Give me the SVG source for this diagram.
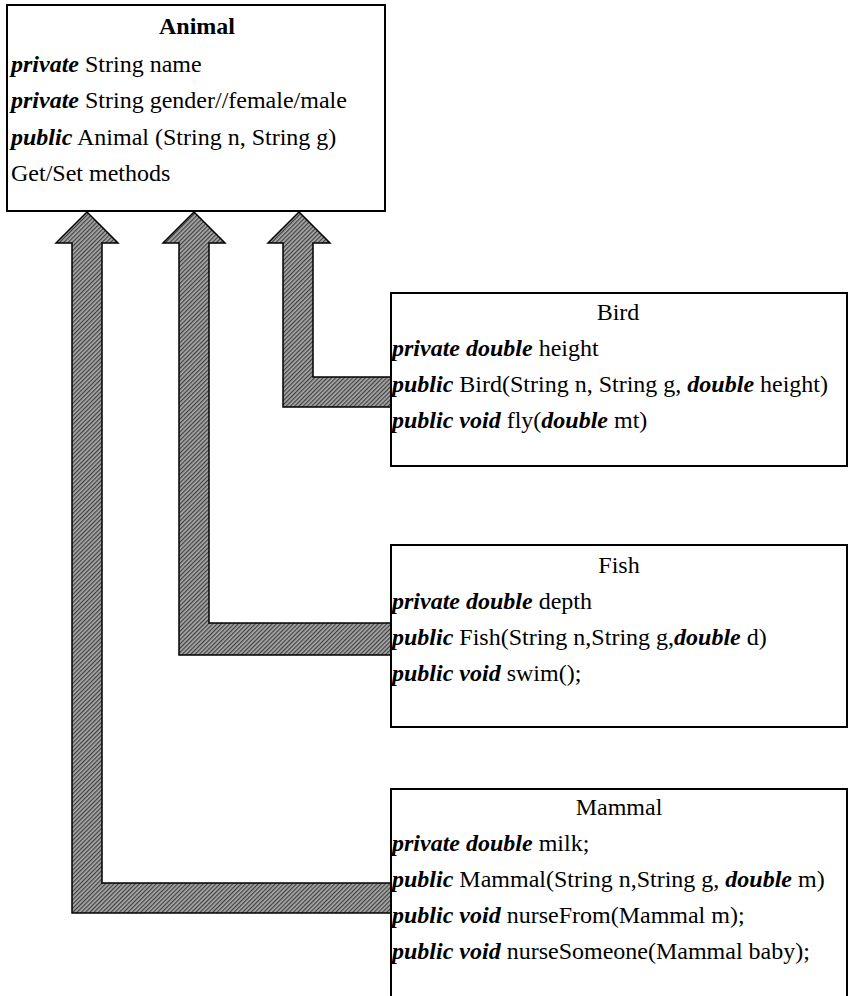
<svg xmlns="http://www.w3.org/2000/svg" width="851" height="996" viewBox="0 0 851 996">
<style>
text{font-family:'Liberation Serif','Times New Roman',serif;font-size:24px;fill:#000}
.k{font-weight:bold;font-style:italic}
.t{font-weight:bold}
.box{fill:#fff;stroke:#000;stroke-width:2}
.arr{fill:url(#hatch);stroke:#000;stroke-width:1.5;stroke-linejoin:miter}
</style>
<defs>
<pattern id="hatch" width="3" height="3" patternUnits="userSpaceOnUse" patternTransform="rotate(45)">
<rect width="3" height="3" fill="#a8a8a8"/>
<rect width="1.2" height="3" fill="#404040"/>
</pattern>
</defs>
<g id="connectors">
<polygon class="arr" points="87,212 118,243 102,243 102,883 391,883 391,913 72,913 72,243 56,243"/>
<polygon class="arr" points="194,212 225,243 209,243 209,623 391,623 391,655 179,655 179,243 163,243"/>
<polygon class="arr" points="299,212 330,243 313,243 313,377 391,377 391,407 283,407 283,243 268,243"/>
</g>
<g id="animal">
<rect class="box" x="7" y="5" width="378" height="206"/>
<text x="197" y="34" text-anchor="middle" class="t">Animal</text>
<text x="11" y="72"><tspan class="k">private</tspan> String name</text>
<text x="11" y="108"><tspan class="k">private</tspan> String gender//female/male</text>
<text x="11" y="145"><tspan class="k">public</tspan> Animal (String n, String g)</text>
<text x="11" y="181">Get/Set methods</text>
</g>
<g id="bird">
<rect class="box" x="391" y="293" width="456" height="173"/>
<text x="618" y="320" text-anchor="middle">Bird</text>
<text x="392" y="356"><tspan class="k">private double</tspan> height</text>
<text x="392" y="392"><tspan class="k">public</tspan> Bird(String n, String g, <tspan class="k">double</tspan> height)</text>
<text x="392" y="428"><tspan class="k">public void</tspan> fly(<tspan class="k">double</tspan> mt)</text>
</g>
<g id="fish">
<rect class="box" x="391" y="545" width="456" height="182"/>
<text x="619" y="573" text-anchor="middle">Fish</text>
<text x="392" y="609"><tspan class="k">private double</tspan> depth</text>
<text x="392" y="645"><tspan class="k">public</tspan> Fish(String n,String g,<tspan class="k">double</tspan> d)</text>
<text x="392" y="681"><tspan class="k">public void</tspan> swim();</text>
</g>
<g id="mammal">
<rect class="box" x="391" y="789" width="456" height="220"/>
<text x="619" y="815" text-anchor="middle">Mammal</text>
<text x="392" y="851"><tspan class="k">private double</tspan> milk;</text>
<text x="392" y="887"><tspan class="k">public</tspan> Mammal(String n,String g, <tspan class="k">double</tspan> m)</text>
<text x="392" y="923"><tspan class="k">public void</tspan> nurseFrom(Mammal m);</text>
<text x="392" y="959"><tspan class="k">public void</tspan> nurseSomeone(Mammal baby);</text>
</g>
</svg>
